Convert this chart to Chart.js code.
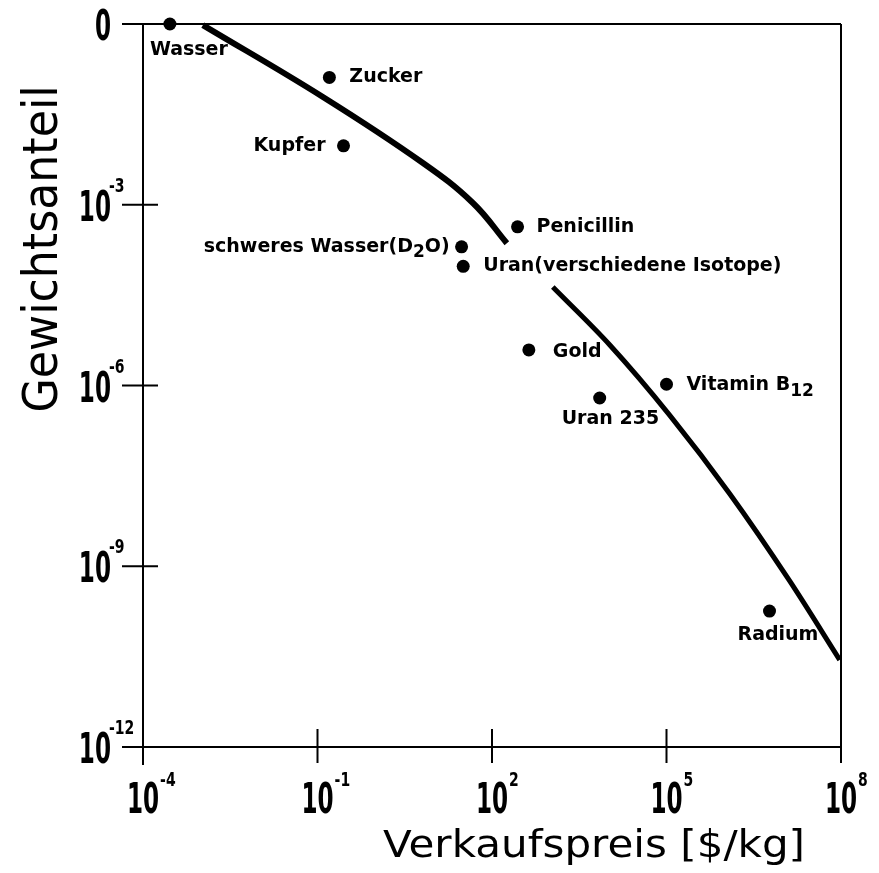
<!DOCTYPE html>
<html>
<head>
<meta charset="utf-8">
<script src="https://cdn.jsdelivr.net/npm/chart.js@4.4.1/dist/chart.umd.min.js"></script>
<style>
  html, body { margin: 0; padding: 0; background: #fff; }
  #wrap { width: 879px; height: 873px; }
</style>
</head>
<body>
<div id="wrap"><canvas id="chart"></canvas></div>
<script>
// Substances: selling price (x, $/kg) and weight fraction (y)
const substances = ["Wasser", "Zucker", "Kupfer", "Penicillin", "schweres Wasser(D_{2}O)",
  "Uran(verschiedene Isotope)", "Gold", "Uran 235", "Vitamin B_{12}", "Radium"];
const priceValues = [2.9e-4, 0.16, 0.28, 275, 30, 32, 430, 7100, 1.0e5, 5.9e6];
const fractionValues = [1, 0.13, 9.5e-3, 4.3e-4, 2.0e-4, 9.5e-5, 3.9e-6, 6.2e-7, 1.05e-6, 1.8e-10];

// Trend curve, drawn in two pieces with a gap between them
const curveUpperX = [1.07e-3, 0.124, 6.5, 47, 180];
const curveUpperY = [0.96, 0.0615, 4.93e-3, 1.07e-3, 2.3e-4];
const curveLowerX = [1110, 1.06e4, 1.14e5, 1.22e6, 1.31e7, 9.5e7];
const curveLowerY = [4.3e-5, 4.7e-6, 3.2e-7, 1.6e-8, 5.7e-10, 2.8e-11];

// Axis ticks
const xTickValues = [1e-4, 1e-1, 1e2, 1e5, 1e8];
const xTickExponents = ["-4", "-1", "2", "5", "8"];
const yTickValues = [1, 1e-3, 1e-6, 1e-9, 1e-12];
const yTickBases = ["0", "10", "10", "10", "10"];
const yTickExponents = ["", "-3", "-6", "-9", "-12"];

// label placement relative to each dot: dx, dy, align
const labelOffsets = [[-20, 26, "left"], [20, 0, "left"], [-18, 0, "right"], [19, 0, "left"],
  [-12, 0, "right"], [20, 0, "left"], [24, 2, "left"], [-38, 21, "left"], [20, 1, "left"], [-32, 24, "left"]];

const FONT = '"DejaVu Sans", sans-serif';

// draw text squeezed horizontally by sx
function drawScaled(ctx, text, x, y, font, sx, align) {
  ctx.save();
  ctx.font = font;
  const w = ctx.measureText(text).width * sx;
  let left = x;
  if (align === "center") left = x - w / 2;
  else if (align === "right") left = x - w;
  ctx.translate(left, y);
  ctx.scale(sx, 1);
  ctx.textAlign = "left";
  ctx.textBaseline = "alphabetic";
  ctx.fillText(text, 0, 0);
  ctx.restore();
  return w;
}

// draw text stretched to a given width
function drawFitted(ctx, text, x, y, font, width) {
  ctx.save();
  ctx.font = font;
  const sx = width / ctx.measureText(text).width;
  ctx.restore();
  drawScaled(ctx, text, x, y, font, sx, "center");
}

// split "Vitamin B_{12}" into normal / subscript parts
function parseParts(str) {
  const parts = [];
  str.split(/(_\{[^}]*\})/).forEach(s => {
    if (!s) return;
    if (s.startsWith("_{")) parts.push({ t: s.slice(2, -1), sub: true });
    else parts.push({ t: s, sub: false });
  });
  return parts;
}

const framePlugin = {
  id: "frame",
  beforeDatasetsDraw(chart) {
    const { ctx, chartArea: a, scales } = chart;
    ctx.save();
    ctx.strokeStyle = "#000";
    ctx.lineWidth = 2;
    ctx.beginPath();
    ctx.moveTo(a.left - 21, a.top); ctx.lineTo(a.right, a.top);
    ctx.moveTo(a.left, a.top); ctx.lineTo(a.left, a.bottom + 18);
    ctx.moveTo(a.left - 21, a.bottom); ctx.lineTo(a.right, a.bottom);
    ctx.moveTo(a.right, a.top); ctx.lineTo(a.right, a.bottom + 13);
    yTickValues.forEach(v => {
      const py = scales.y.getPixelForValue(v);
      ctx.moveTo(a.left - 21, py); ctx.lineTo(a.left + 15, py);
    });
    xTickValues.forEach(v => {
      const px = scales.x.getPixelForValue(v);
      ctx.moveTo(px, a.bottom - 18); ctx.lineTo(px, a.bottom + 16);
    });
    ctx.stroke();
    ctx.restore();
  },
  afterDraw(chart) {
    const { ctx, chartArea: a, scales } = chart;
    ctx.save();
    ctx.fillStyle = "#000";
    // y tick labels
    yTickValues.forEach((v, i) => {
      const py = scales.y.getPixelForValue(v);
      drawScaled(ctx, yTickBases[i], a.left - 32, py + 16, "bold 42px " + FONT, 0.55, "right");
      if (yTickExponents[i]) {
        drawScaled(ctx, yTickExponents[i], a.left - 34, py - 13, "bold 20px " + FONT, 0.7, "left");
      }
    });
    // x tick labels
    xTickValues.forEach((v, i) => {
      const px = scales.x.getPixelForValue(v);
      const w = drawScaled(ctx, "10", px, a.bottom + 66, "bold 42px " + FONT, 0.55, "center");
      drawScaled(ctx, xTickExponents[i], px + w / 2 + 1, a.bottom + 39, "bold 20px " + FONT, 0.7, "left");
    });
    // axis titles
    drawFitted(ctx, "Verkaufspreis [$/kg]", 594, 857, "37px " + FONT, 422);
    ctx.save();
    ctx.translate(57, 249);
    ctx.rotate(-Math.PI / 2);
    drawFitted(ctx, "Gewichtsanteil", 0, 0, "48px " + FONT, 327);
    ctx.restore();

    // substance labels next to the dots
    const mainFont = "bold 19px " + FONT;
    const subFont = "bold 17px " + FONT;
    ctx.textBaseline = "middle";
    ctx.textAlign = "left";
    substances.forEach((name, i) => {
      const px = scales.x.getPixelForValue(priceValues[i]);
      const py = scales.y.getPixelForValue(fractionValues[i]);
      const [dx, dy, align] = labelOffsets[i];
      const parts = parseParts(name);
      let total = 0;
      parts.forEach(p => { ctx.font = p.sub ? subFont : mainFont; p.w = ctx.measureText(p.t).width; total += p.w; });
      let x = align === "right" ? px + dx - total : px + dx;
      const y = py + dy;
      parts.forEach(p => {
        ctx.font = p.sub ? subFont : mainFont;
        ctx.fillText(p.t, x, p.sub ? y + 6 : y);
        x += p.w;
      });
    });
    ctx.restore();
  }
};

const toPoints = (xs, ys) => xs.map((x, i) => ({ x, y: ys[i] }));

new Chart(document.getElementById("chart"), {
  type: "scatter",
  data: {
    datasets: [
      {
        label: "Kurve 1",
        data: toPoints(curveUpperX, curveUpperY),
        showLine: true,
        borderColor: "#000",
        borderWidth: 6,
        pointRadius: 0,
        tension: 0.4,
        clip: false,
      },
      {
        label: "Kurve 2",
        data: toPoints(curveLowerX, curveLowerY),
        showLine: true,
        borderColor: "#000",
        borderWidth: 5,
        pointRadius: 0,
        cubicInterpolationMode: "monotone",
        clip: false,
      },
      {
        label: "Stoffe",
        data: toPoints(priceValues, fractionValues),
        pointRadius: 6.5,
        pointBackgroundColor: "#000",
        pointBorderWidth: 0,
        clip: false,
      },
    ],
  },
  options: {
    responsive: true,
    maintainAspectRatio: false,
    animation: false,
    layout: { padding: { left: 143, right: 38, top: 24, bottom: 126 } },
    plugins: { legend: { display: false }, tooltip: { enabled: false } },
    scales: {
      x: { type: "logarithmic", min: 1e-4, max: 1e8, display: false },
      y: { type: "logarithmic", min: 1e-12, max: 1, display: false },
    },
  },
  plugins: [framePlugin],
});
</script>
</body>
</html>
